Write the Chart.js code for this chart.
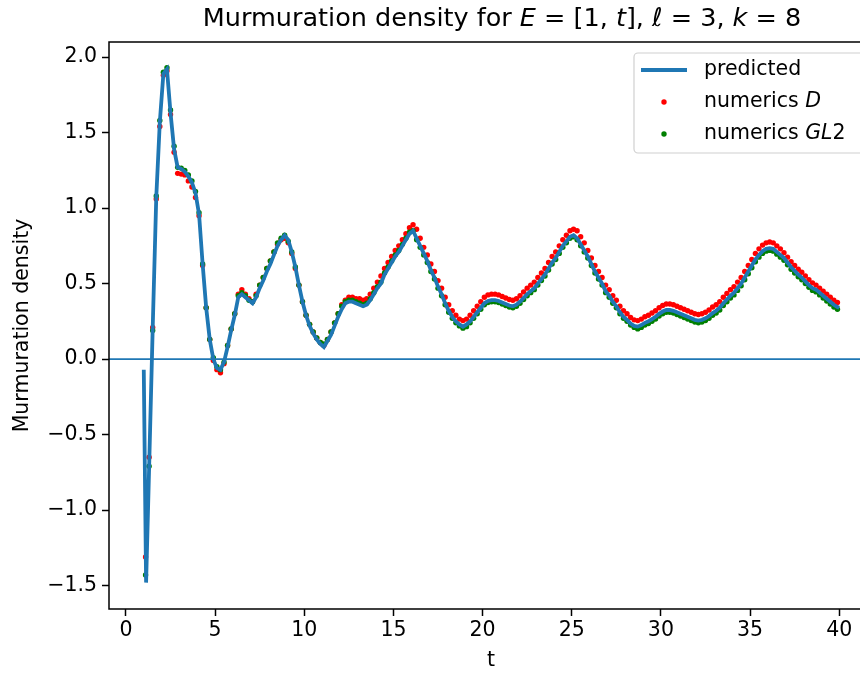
<!DOCTYPE html>
<html>
<head>
<meta charset="utf-8">
<script src="https://cdn.jsdelivr.net/npm/chart.js@4.4.1/dist/chart.umd.min.js"></script>
<style>
  html, body { margin: 0; padding: 0; background: white; overflow: hidden; width: 860px; height: 673px; }
  #wrap { width: 900px; height: 673px; }
</style>
</head>
<body>
<div id="wrap"><canvas id="myChart" width="900" height="673"></canvas></div>
<script>
// sample times of the numeric runs (one row per unit of t)
tDots = [
  1.1, 1.3, 1.5, 1.7, 1.9,   2.1, 2.3, 2.5, 2.7, 2.9,   3.1, 3.3, 3.5, 3.7, 3.9,
  4.1, 4.3, 4.5, 4.7, 4.9,   5.1, 5.3, 5.5, 5.7, 5.9,   6.1, 6.3, 6.5, 6.7, 6.9,
  7.1, 7.3, 7.5, 7.7, 7.9,   8.1, 8.3, 8.5, 8.7, 8.9,   9.1, 9.3, 9.5, 9.7, 9.9,
  10.1, 10.3, 10.5, 10.7, 10.9,   11.1, 11.3, 11.5, 11.7, 11.9,   12.1, 12.3, 12.5, 12.7, 12.9,
  13.1, 13.3, 13.5, 13.7, 13.9,   14.1, 14.3, 14.5, 14.7, 14.9,   15.1, 15.3, 15.5, 15.7, 15.9,
  16.1, 16.3, 16.5, 16.7, 16.9,   17.1, 17.3, 17.5, 17.7, 17.9,   18.1, 18.3, 18.5, 18.7, 18.9,
  19.1, 19.3, 19.5, 19.7, 19.9,   20.1, 20.3, 20.5, 20.7, 20.9,   21.1, 21.3, 21.5, 21.7, 21.9,
  22.1, 22.3, 22.5, 22.7, 22.9,   23.1, 23.3, 23.5, 23.7, 23.9,   24.1, 24.3, 24.5, 24.7, 24.9,
  25.1, 25.3, 25.5, 25.7, 25.9,   26.1, 26.3, 26.5, 26.7, 26.9,   27.1, 27.3, 27.5, 27.7, 27.9,
  28.1, 28.3, 28.5, 28.7, 28.9,   29.1, 29.3, 29.5, 29.7, 29.9,   30.1, 30.3, 30.5, 30.7, 30.9,
  31.1, 31.3, 31.5, 31.7, 31.9,   32.1, 32.3, 32.5, 32.7, 32.9,   33.1, 33.3, 33.5, 33.7, 33.9,
  34.1, 34.3, 34.5, 34.7, 34.9,   35.1, 35.3, 35.5, 35.7, 35.9,   36.1, 36.3, 36.5, 36.7, 36.9,
  37.1, 37.3, 37.5, 37.7, 37.9,   38.1, 38.3, 38.5, 38.7, 38.9,   39.1, 39.3, 39.5, 39.7, 39.9
]

// predicted curve: starts at t=1.0, dips at t=1.13, then same times as dots, ends at t=40
tLine = [1.0, 1.13].concat(tDots.slice(1), [40.0])
predicted = [
  -0.07, -1.48, -0.72, 0.2, 1.07, 1.57,
  1.89, 1.92, 1.63, 1.39, 1.27,
  1.26, 1.24, 1.21, 1.17, 1.10,
  0.96, 0.63, 0.34, 0.13, 0.0,
  -0.06, -0.07, -0.02, 0.08, 0.19,
  0.29, 0.41, 0.43, 0.41, 0.39,
  0.37, 0.41, 0.47, 0.52, 0.58,
  0.63, 0.69, 0.75, 0.79, 0.82,
  0.79, 0.71, 0.61, 0.49, 0.38,
  0.29, 0.22, 0.17, 0.13, 0.10,
  0.08, 0.12, 0.16, 0.22, 0.28,
  0.33, 0.37, 0.38, 0.38, 0.37,
  0.36, 0.35, 0.36, 0.39, 0.43,
  0.47, 0.50, 0.56, 0.60, 0.64,
  0.68, 0.71, 0.75, 0.79, 0.83,
  0.85, 0.80, 0.75, 0.70, 0.65,
  0.59, 0.54, 0.48, 0.43, 0.37,
  0.32, 0.28, 0.25, 0.23, 0.215,
  0.23, 0.25, 0.28, 0.31, 0.34,
  0.37, 0.385, 0.39, 0.39, 0.385,
  0.375, 0.365, 0.355, 0.35, 0.36,
  0.38, 0.405, 0.43, 0.45, 0.47,
  0.50, 0.53, 0.56, 0.60, 0.64,
  0.67, 0.71, 0.75, 0.78, 0.81,
  0.82, 0.80, 0.76, 0.72, 0.68,
  0.63, 0.58, 0.54, 0.50, 0.45,
  0.42, 0.38, 0.35, 0.31, 0.28,
  0.26, 0.235, 0.22, 0.215, 0.225,
  0.24, 0.25, 0.265, 0.28, 0.30,
  0.315, 0.325, 0.325, 0.32, 0.31,
  0.30, 0.29, 0.28, 0.27, 0.26,
  0.255, 0.26, 0.27, 0.285, 0.305,
  0.32, 0.34, 0.37, 0.395, 0.42,
  0.44, 0.47, 0.50, 0.54, 0.58,
  0.62, 0.66, 0.69, 0.715, 0.73,
  0.735, 0.73, 0.71, 0.69, 0.67,
  0.64, 0.61, 0.585, 0.56, 0.54,
  0.515, 0.49, 0.47, 0.46, 0.44,
  0.42, 0.40, 0.38, 0.36, 0.345,
  0.34
]

// numerics D (red)
numericsD = [
  -1.31, -0.65, 0.21, 1.06, 1.54,
  1.88, 1.91, 1.62, 1.37, 1.23,
  1.225, 1.22, 1.18, 1.14, 1.07,
  0.95, 0.62, 0.34, 0.13, -0.01,
  -0.07, -0.09, -0.03, 0.09, 0.20,
  0.30, 0.43, 0.46, 0.43, 0.40,
  0.38, 0.43, 0.49, 0.54, 0.60,
  0.65, 0.71, 0.76, 0.79, 0.80,
  0.77, 0.70, 0.60, 0.49, 0.38,
  0.29, 0.23, 0.18, 0.14, 0.11,
  0.09, 0.13, 0.18, 0.24, 0.30,
  0.36, 0.39, 0.41, 0.41, 0.40,
  0.40, 0.39, 0.40, 0.43, 0.47,
  0.51, 0.55, 0.60, 0.64, 0.68,
  0.72, 0.75, 0.79, 0.83, 0.87,
  0.89, 0.86, 0.80, 0.74, 0.69,
  0.63, 0.58, 0.52, 0.47, 0.41,
  0.36, 0.32, 0.29, 0.265, 0.255,
  0.265, 0.29, 0.32, 0.35, 0.38,
  0.41, 0.425, 0.43, 0.43, 0.425,
  0.415, 0.405, 0.395, 0.39, 0.40,
  0.42, 0.445, 0.47, 0.49, 0.51,
  0.54, 0.57, 0.60, 0.64, 0.68,
  0.71, 0.75, 0.79, 0.82, 0.85,
  0.86, 0.85, 0.81, 0.77, 0.72,
  0.67, 0.62, 0.58, 0.54, 0.49,
  0.46, 0.42, 0.39, 0.35, 0.32,
  0.30, 0.275, 0.26, 0.255, 0.265,
  0.28, 0.29, 0.305, 0.32, 0.34,
  0.355, 0.365, 0.365, 0.36, 0.35,
  0.34, 0.33, 0.32, 0.31, 0.30,
  0.295, 0.30, 0.31, 0.325, 0.345,
  0.36, 0.38, 0.41, 0.435, 0.46,
  0.48, 0.51, 0.54, 0.58, 0.62,
  0.66, 0.70, 0.73, 0.755, 0.77,
  0.775, 0.77, 0.75, 0.73, 0.705,
  0.675, 0.645, 0.62, 0.595, 0.575,
  0.55, 0.525, 0.505, 0.49, 0.47,
  0.45, 0.43, 0.41, 0.39, 0.375
]

// numerics GL2 (green)
numericsGL2 = [
  -1.43, -0.71, 0.19, 1.08, 1.58,
  1.90, 1.93, 1.65, 1.41, 1.27,
  1.265, 1.25, 1.22, 1.18, 1.11,
  0.97, 0.63, 0.34, 0.13, 0.01,
  -0.05, -0.07, -0.02, 0.09, 0.20,
  0.30, 0.42, 0.44, 0.42, 0.39,
  0.38, 0.42, 0.49, 0.54, 0.60,
  0.65, 0.71, 0.77, 0.80, 0.82,
  0.78, 0.71, 0.61, 0.49, 0.38,
  0.29, 0.23, 0.18, 0.14, 0.11,
  0.10, 0.13, 0.18, 0.24, 0.30,
  0.35, 0.38, 0.39, 0.39, 0.38,
  0.37, 0.36, 0.37, 0.40, 0.44,
  0.48, 0.51, 0.57, 0.61, 0.65,
  0.69, 0.72, 0.76, 0.80, 0.84,
  0.85, 0.79, 0.74, 0.69, 0.64,
  0.58, 0.53, 0.47, 0.42, 0.36,
  0.31, 0.27, 0.24, 0.22, 0.205,
  0.215, 0.24, 0.27, 0.30, 0.33,
  0.36, 0.375, 0.38, 0.38, 0.375,
  0.365, 0.355, 0.345, 0.34, 0.35,
  0.37, 0.395, 0.42, 0.44, 0.46,
  0.49, 0.52, 0.55, 0.59, 0.63,
  0.66, 0.70, 0.74, 0.77, 0.80,
  0.81, 0.79, 0.75, 0.71, 0.67,
  0.62, 0.57, 0.53, 0.49, 0.44,
  0.41, 0.37, 0.34, 0.30, 0.27,
  0.25, 0.225, 0.21, 0.20, 0.21,
  0.225, 0.235, 0.25, 0.265, 0.285,
  0.30, 0.31, 0.31, 0.305, 0.295,
  0.285, 0.275, 0.265, 0.255, 0.245,
  0.24, 0.245, 0.255, 0.27, 0.29,
  0.305, 0.325, 0.355, 0.38, 0.405,
  0.425, 0.455, 0.485, 0.525, 0.565,
  0.605, 0.645, 0.675, 0.70, 0.715,
  0.72, 0.715, 0.695, 0.675, 0.655,
  0.625, 0.595, 0.57, 0.545, 0.525,
  0.50, 0.475, 0.455, 0.445, 0.425,
  0.405, 0.385, 0.365, 0.345, 0.33
]

xTicks = [0, 5, 10, 15, 20, 25, 30, 35, 40]
yTicks = [-1.5, -1.0, -0.5, 0.0, 0.5, 1.0, 1.5, 2.0]

var FONT = "'DejaVu Sans', sans-serif"
var BLUE = '#1f77b4'
var FS = 20.5

function pairs(xs, ys)
{
    var out = []
    for (var i = 0; i < xs.length; i++) out.push({x: xs[i], y: ys[i]})
    return out
}

// draws a list of [text, italic] pieces starting at x (or centred on x)
function drawPieces(ctx, pieces, x, y, size, centred)
{
    var total = 0
    for (var i = 0; i < pieces.length; i++) {
        ctx.font = (pieces[i][1] ? 'oblique ' : '') + size + 'px ' + FONT
        total += ctx.measureText(pieces[i][0]).width
    }
    var cx = centred ? x - total / 2 : x
    for (var i = 0; i < pieces.length; i++) {
        ctx.font = (pieces[i][1] ? 'oblique ' : '') + size + 'px ' + FONT
        ctx.fillText(pieces[i][0], cx, y)
        cx += ctx.measureText(pieces[i][0]).width
    }
}

var decorations = {
    id: 'decorations',
    afterDatasetsDraw: function(chart) {
        var ctx = chart.ctx
        var area = chart.chartArea
        var ys = chart.scales.y
        ctx.save()
        // horizontal line at zero
        var y0 = ys.getPixelForValue(0)
        ctx.strokeStyle = BLUE
        ctx.lineWidth = 1.8
        ctx.beginPath()
        ctx.moveTo(area.left, y0)
        ctx.lineTo(area.right, y0)
        ctx.stroke()
        // left, top and bottom spines (the right one falls outside the picture)
        ctx.strokeStyle = 'black'
        ctx.lineWidth = 1.5
        ctx.beginPath()
        ctx.moveTo(area.right, area.top)
        ctx.lineTo(area.left, area.top)
        ctx.lineTo(area.left, area.bottom)
        ctx.lineTo(area.right, area.bottom)
        ctx.stroke()
        ctx.restore()
    },
    afterDraw: function(chart) {
        var ctx = chart.ctx
        var area = chart.chartArea
        ctx.save()
        ctx.fillStyle = 'black'
        ctx.textBaseline = 'middle'
        // title
        drawPieces(ctx, [['Murmuration density for ', false], ['E', true], [' = [1, ', false], ['t', true],
            ['], ', false], ['\u2113', true], [' = 3, ', false], ['k', true], [' = 8', false]],
            502, 19, 25.5, true)
        // axis titles
        ctx.font = FS + 'px ' + FONT
        ctx.textAlign = 'center'
        ctx.fillText('t', 491, 661)
        ctx.save()
        ctx.translate(23, (area.top + area.bottom) / 2)
        ctx.rotate(-Math.PI / 2)
        ctx.fillText('Murmuration density', 0, 0)
        ctx.restore()
        ctx.textAlign = 'left'

        // legend
        var bx = 634, by = 53, bw = 240, bh = 100
        ctx.beginPath()
        ctx.roundRect(bx, by, bw, bh, 4)
        ctx.fillStyle = 'rgba(255,255,255,0.8)'
        ctx.fill()
        ctx.strokeStyle = '#d0d0d0'
        ctx.lineWidth = 1.2
        ctx.stroke()

        ctx.strokeStyle = BLUE
        ctx.lineWidth = 3.8
        ctx.beginPath()
        ctx.moveTo(641, 70)
        ctx.lineTo(687, 70)
        ctx.stroke()
        ctx.fillStyle = 'red'
        ctx.beginPath(); ctx.arc(664, 102, 2.7, 0, 2 * Math.PI); ctx.fill()
        ctx.fillStyle = 'green'
        ctx.beginPath(); ctx.arc(664, 134, 2.7, 0, 2 * Math.PI); ctx.fill()

        ctx.fillStyle = 'black'
        drawPieces(ctx, [['predicted', false]], 704, 70, FS, false)
        drawPieces(ctx, [['numerics ', false], ['D', true]], 704, 102, FS, false)
        drawPieces(ctx, [['numerics ', false], ['GL', true], ['2', false]], 704, 134, FS, false)
        ctx.restore()
    }
}

var ctx = document.getElementById('myChart').getContext('2d')
var myChart = new Chart(ctx, {
    type: 'scatter',
    data: {
        datasets: [
        {
            label: 'predicted',
            type: 'line',
            data: pairs(tLine, predicted),
            borderColor: BLUE,
            borderWidth: 3.8,
            pointRadius: 0,
            fill: false,
            tension: 0
        },
        {
            label: 'numerics GL2',
            data: pairs(tDots, numericsGL2),
            backgroundColor: 'green',
            borderWidth: 0,
            pointRadius: 2.7
        },
        {
            label: 'numerics D',
            data: pairs(tDots, numericsD),
            backgroundColor: 'red',
            borderWidth: 0,
            pointRadius: 2.7
        }]
    },
    options: {
        responsive: false,
        animation: false,
        devicePixelRatio: 1,
        // canvas is wider than the window so the plot box runs past the right edge
        layout: { padding: { top: 42, right: 26, bottom: 0, left: 0 } },
        plugins: {
            legend: { display: false },
            title: { display: false },
            tooltip: { enabled: false }
        },
        scales: {
            x: {
                type: 'linear',
                min: -0.95,
                max: 41.95,
                afterBuildTicks: function(scale) { scale.ticks = xTicks.map(function(v) { return {value: v} }) },
                afterFit: function(scale) { scale.height = 64 },
                ticks: { color: 'black', font: { family: FONT, size: FS }, padding: 2, maxRotation: 0,
                         callback: function(v) { return String(v) } },
                grid: { drawOnChartArea: false, drawTicks: true, tickLength: 7, tickColor: 'black', tickWidth: 1.5 },
                border: { display: false }
            },
            y: {
                type: 'linear',
                min: -1.655,
                max: 2.1,
                afterBuildTicks: function(scale) { scale.ticks = yTicks.map(function(v) { return {value: v} }) },
                afterFit: function(scale) { scale.width = 109 },
                ticks: { color: 'black', font: { family: FONT, size: FS }, padding: 5,
                         callback: function(v) { return v.toFixed(1).replace('-', '\u2212') } },
                grid: { drawOnChartArea: false, drawTicks: true, tickLength: 7, tickColor: 'black', tickWidth: 1.5 },
                border: { display: false }
            }
        }
    },
    plugins: [decorations]
})
</script>
</body>
</html>
